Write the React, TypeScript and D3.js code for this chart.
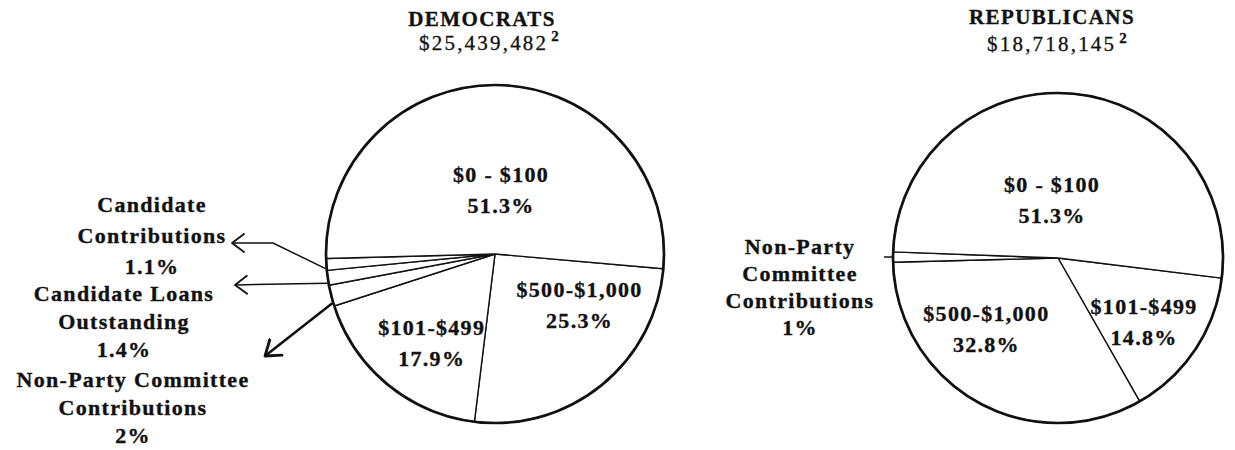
import { useMemo } from "react";
import * as d3 from "d3";

// ---- data ----
const PARTIES = ["DEMOCRATS", "REPUBLICANS"];
const PARTY_TOTALS = ["$25,439,482", "$18,718,145"];
const FOOTNOTE_MARK = "2";

// slices listed clockwise, starting at the right-hand boundary of "$0 - $100"
const DEM_CATEGORIES = [
    "$500-$1,000",
    "$101-$499",
    "Non-Party Committee Contributions",
    "Candidate Loans Outstanding",
    "Candidate Contributions",
    "$0 - $100",
];
const DEM_VALUES = [25.3, 17.9, 2, 1.4, 1.1, 51.3];
const DEM_LABEL_LINES = [
    ["$500-$1,000"],
    ["$101-$499"],
    ["Non-Party Committee", "Contributions"],
    ["Candidate Loans", "Outstanding"],
    ["Candidate", "Contributions"],
    ["$0 - $100"],
];

const REP_CATEGORIES = ["$101-$499", "$500-$1,000", "Non-Party Committee Contributions", "$0 - $100"];
const REP_VALUES = [14.8, 32.8, 1, 51.3];
const REP_LABEL_LINES = [["$101-$499"], ["$500-$1,000"], ["Non-Party", "Committee", "Contributions"], ["$0 - $100"]];

// ---- layout ----
const WIDTH = 1235;
const HEIGHT = 450;
const FONT = "'Liberation Serif', 'Times New Roman', serif";
const INK = "#111";

type Outside = {
    x: number;
    y: number;
    lh: number;
    // arrow: bend points + tip (absolute), or a short tick
    arrow?: [number, number][];
    heavy?: boolean;
    tick?: number;
};

type PieLayout = {
    cx: number;
    cy: number;
    r: number;
    startDeg: number;
    labelR: number;
    titleX: number;
    titleY: number;
    totalX: number;
    totalY: number;
    supDy: number;
    inside: Record<number, [number, number]>;
    outside: Record<number, Outside>;
};

const DEM_LAYOUT: PieLayout = {
    cx: 495,
    cy: 254,
    r: 169,
    startDeg: 95,
    labelR: 101,
    titleX: 482,
    titleY: 26,
    totalX: 490,
    totalY: 50,
    supDy: -9,
    inside: { 0: [21, -27], 1: [1, 11], 5: [3, 37] },
    outside: {
        2: { x: 133, y: 408, lh: 28, arrow: [[265, 356]], heavy: true },
        3: { x: 124, y: 322, lh: 28, arrow: [[235, 285]] },
        4: { x: 152, y: 236, lh: 31, arrow: [[273, 243], [232, 243]] },
    },
};

const REP_LAYOUT: PieLayout = {
    cx: 1058,
    cy: 258,
    r: 165,
    startDeg: 97,
    labelR: 101,
    titleX: 1052,
    titleY: 24,
    totalX: 1058,
    totalY: 51,
    supDy: -8,
    inside: { 0: [2, 8], 1: [-22, -17], 3: [-14, 43] },
    outside: {
        2: { x: 800, y: 287, lh: 27, tick: 9 },
    },
};

const pct = (v: number) => `${v}%`;

const TextBlock = ({ x, y, lines, lh, size = 22 }: { x: number; y: number; lines: string[]; lh: number; size?: number }) => {
    const n = lines.length;
    return (
        <text
            textAnchor="middle"
            fontFamily={FONT}
            fontSize={size}
            fontWeight="bold"
            fill={INK}
            stroke={INK}
            strokeWidth={0.35}
            letterSpacing={1.3}
        >
            {lines.map((l, i) => (
                <tspan key={i} x={x} y={y + (i - (n - 1) / 2) * lh + size * 0.33}>
                    {l}
                </tspan>
            ))}
        </text>
    );
};

const Pie = ({ idx, categories, values, labelLines, layout }: { idx: number; categories: string[]; values: number[]; labelLines: string[][]; layout: PieLayout }) => {
    const { cx, cy, r } = layout;
    const start = (layout.startDeg * Math.PI) / 180;

    const arcs = useMemo(() => {
        const pie = d3
            .pie<number>()
            .sort(null)
            .value((d) => d)
            .startAngle(start)
            .endAngle(start + 2 * Math.PI);
        return pie(values);
    }, [values, start]);

    const arcGen = d3.arc<d3.PieArcDatum<number>>().innerRadius(0).outerRadius(r);
    const labelArc = d3.arc<d3.PieArcDatum<number>>().innerRadius(layout.labelR).outerRadius(layout.labelR);
    const polar = (a: number, rad: number): [number, number] => [rad * Math.sin(a), -rad * Math.cos(a)];

    const line = d3.line();

    return (
        <g>
            {/* title */}
            <text
                x={layout.titleX}
                y={layout.titleY}
                textAnchor="middle"
                fontFamily={FONT}
                fontSize={21}
                fontWeight="bold"
                fill={INK}
                stroke={INK}
                strokeWidth={0.35}
                letterSpacing={1.4}
            >
                {PARTIES[idx]}
            </text>
            <text
                x={layout.totalX}
                y={layout.totalY}
                textAnchor="middle"
                fontFamily={FONT}
                fontSize={21}
                fill={INK}
                stroke={INK}
                strokeWidth={0.3}
                letterSpacing={2.2}
            >
                {PARTY_TOTALS[idx]}
                <tspan dx={3} dy={layout.supDy} fontSize={15} fontWeight="bold">
                    {FOOTNOTE_MARK}
                </tspan>
            </text>

            <g transform={`translate(${cx},${cy})`}>
                {arcs.map((a, i) => (
                    <path key={categories[i]} d={arcGen(a) ?? ""} fill="#fff" stroke={INK} strokeWidth={1.4} strokeLinejoin="round" />
                ))}
                <circle r={r} fill="none" stroke={INK} strokeWidth={2.7} />
                {arcs.map((a, i) => {
                    const ins = layout.inside[i];
                    if (!ins) return null;
                    const [lx, ly] = labelArc.centroid(a);
                    return <TextBlock key={i} x={lx + ins[0]} y={ly + ins[1]} lines={[...labelLines[i], pct(values[i])]} lh={31} />;
                })}
                {arcs.map((a, i) => {
                    const o = layout.outside[i];
                    if (!o) return null;
                    if (o.tick) {
                        const mid = (a.startAngle + a.endAngle) / 2;
                        return <path key={i} d={line([polar(mid, r - 1), polar(mid, r + o.tick)]) ?? ""} stroke={INK} strokeWidth={1.6} fill="none" />;
                    }
                    const ang = a.startAngle + (a.endAngle - a.startAngle) * 0.15;
                    const pts: [number, number][] = [polar(ang, r + 1), ...(o.arrow ?? []).map(([px, py]) => [px - cx, py - cy] as [number, number])];
                    return (
                        <path
                            key={i}
                            d={line(pts) ?? ""}
                            stroke={INK}
                            strokeWidth={o.heavy ? 2.6 : 1.5}
                            fill="none"
                            markerEnd={`url(#${o.heavy ? "chevHeavy" : "chev"})`}
                        />
                    );
                })}
            </g>

            {arcs.map((a, i) => {
                const o = layout.outside[i];
                if (!o) return null;
                return <TextBlock key={i} x={o.x} y={o.y} lines={[...labelLines[i], pct(values[i])]} lh={o.lh} />;
            })}
        </g>
    );
};

export default function App() {
    return (
        <svg width={WIDTH} height={HEIGHT} style={{ position: "absolute", left: 0, top: 0, background: "#fff" }}>
            <defs>
                <marker id="chev" markerUnits="userSpaceOnUse" markerWidth={30} markerHeight={30} viewBox="-15 -15 30 30" refX={0} refY={0} orient="auto">
                    <path d="M-12,-9 L0,0 L-12,9" fill="none" stroke={INK} strokeWidth={1.8} strokeLinecap="round" strokeLinejoin="round" />
                </marker>
                <marker id="chevHeavy" markerUnits="userSpaceOnUse" markerWidth={30} markerHeight={30} viewBox="-15 -15 30 30" refX={0} refY={0} orient="auto">
                    <path d="M-14,-10 L0,0 L-14,10" fill="none" stroke={INK} strokeWidth={2.8} strokeLinecap="round" strokeLinejoin="round" />
                </marker>
            </defs>
            <Pie idx={0} categories={DEM_CATEGORIES} values={DEM_VALUES} labelLines={DEM_LABEL_LINES} layout={DEM_LAYOUT} />
            <Pie idx={1} categories={REP_CATEGORIES} values={REP_VALUES} labelLines={REP_LABEL_LINES} layout={REP_LAYOUT} />
        </svg>
    );
}
